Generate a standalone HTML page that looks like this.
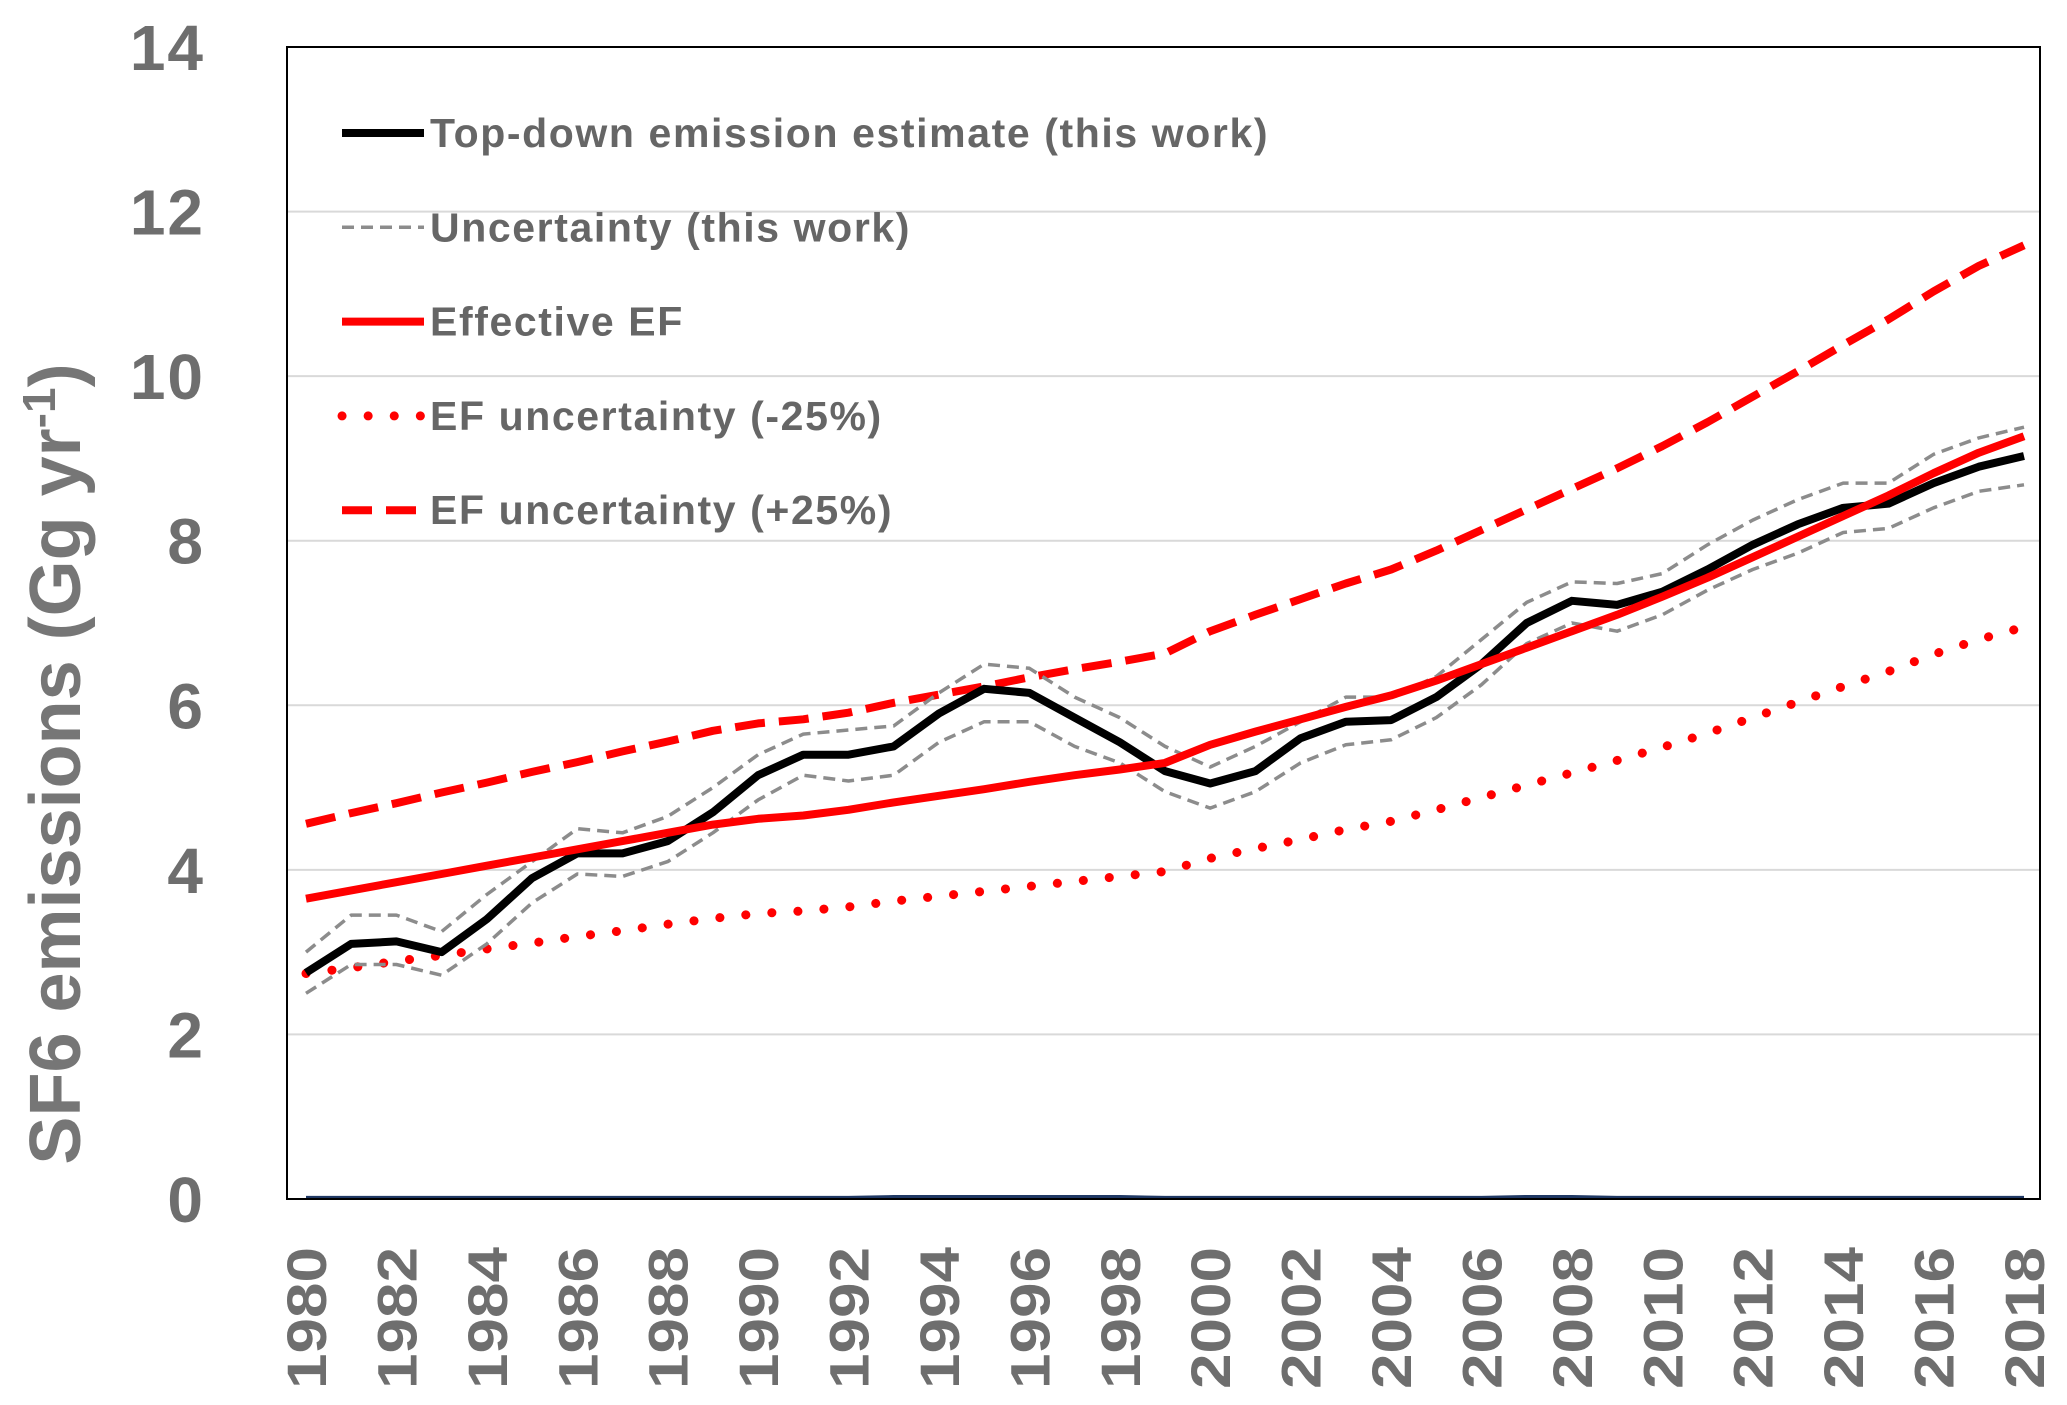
<!DOCTYPE html>
<html><head><meta charset="utf-8"><style>
html,body{margin:0;padding:0;background:#fff;}
svg{display:block;font-family:"Liberation Sans",sans-serif;font-weight:bold;}
</style></head><body>
<svg id="chart" width="2067" height="1405" viewBox="0 0 2067 1405" xmlns="http://www.w3.org/2000/svg">
<g id="grid"></g>
<g id="series"></g>
<rect x="287" y="47" width="1753" height="1152" fill="none" stroke="#000" stroke-width="2"/>
<g id="yticks"></g>
<g id="xticks"></g>
<text transform="translate(80,764) rotate(-90)" text-anchor="middle" font-size="72" fill="#767676" font-weight="bold">SF6 emissions (Gg yr<tspan dy="-25" font-size="46">-1</tspan><tspan dy="25">)</tspan></text>
<g id="legend"></g>
</svg>
<script>
const years = [];
for (let y = 1980; y <= 2018; y++) years.push(y);
const topDown = [2.75,3.1,3.13,3.0,3.4,3.9,4.2,4.2,4.35,4.7,5.15,5.4,5.4,5.5,5.9,6.2,6.15,5.85,5.55,5.2,5.05,5.2,5.6,5.8,5.82,6.1,6.5,7.0,7.27,7.22,7.38,7.65,7.95,8.2,8.4,8.45,8.7,8.9,9.03];
const uncUpper = [3.0,3.45,3.45,3.25,3.7,4.1,4.5,4.45,4.65,5.0,5.4,5.65,5.7,5.75,6.15,6.5,6.45,6.1,5.85,5.5,5.25,5.5,5.8,6.1,6.1,6.35,6.8,7.25,7.5,7.48,7.6,7.95,8.25,8.5,8.7,8.7,9.05,9.25,9.38];
const uncLower = [2.5,2.85,2.85,2.72,3.1,3.6,3.95,3.92,4.1,4.45,4.85,5.15,5.08,5.15,5.55,5.8,5.8,5.5,5.3,4.95,4.75,4.95,5.3,5.52,5.58,5.85,6.25,6.75,7.0,6.9,7.1,7.4,7.65,7.85,8.1,8.15,8.4,8.6,8.68];
const effEF = [3.65,3.75,3.85,3.95,4.05,4.15,4.25,4.35,4.45,4.55,4.62,4.66,4.73,4.82,4.9,4.98,5.07,5.15,5.22,5.3,5.52,5.68,5.83,5.98,6.12,6.3,6.5,6.7,6.9,7.1,7.32,7.55,7.8,8.05,8.3,8.55,8.82,9.07,9.27];
const efLow = [2.74,2.81,2.89,2.96,3.04,3.11,3.19,3.26,3.34,3.41,3.47,3.5,3.55,3.62,3.68,3.74,3.8,3.86,3.92,3.98,4.14,4.26,4.37,4.49,4.59,4.73,4.88,5.03,5.18,5.33,5.49,5.66,5.85,6.04,6.23,6.41,6.62,6.8,6.95];
const efHigh = [4.56,4.69,4.81,4.94,5.06,5.19,5.31,5.44,5.56,5.69,5.78,5.83,5.91,6.03,6.13,6.23,6.34,6.44,6.53,6.63,6.9,7.1,7.29,7.48,7.65,7.88,8.13,8.38,8.63,8.88,9.15,9.44,9.75,10.06,10.38,10.69,11.03,11.34,11.59];
const baseline = [0.02,0.02,0.02,0.02,0.02,0.02,0.02,0.02,0.02,0.02,0.02,0.02,0.02,0.03,0.03,0.03,0.03,0.03,0.03,0.02,0.02,0.02,0.02,0.02,0.02,0.02,0.02,0.03,0.03,0.02,0.02,0.02,0.02,0.02,0.02,0.02,0.02,0.02,0.02];
const yTicks = [0,2,4,6,8,10,12,14];
const xTickYears = [1980,1982,1984,1986,1988,1990,1992,1994,1996,1998,2000,2002,2004,2006,2008,2010,2012,2014,2016,2018];
const legendLabels = ["Top-down emission estimate (this work)","Uncertainty (this work)","Effective EF","EF uncertainty (-25%)","EF uncertainty (+25%)"];

const NS = "http://www.w3.org/2000/svg";
const xS = yr => 306 + (yr - 1980) * (2024 - 306) / 38;
const yS = v => 1199 - v * (1199 - 47) / 14;
function mk(tag, attrs, parent) {
  const e = document.createElementNS(NS, tag);
  for (const k in attrs) e.setAttribute(k, attrs[k]);
  parent.appendChild(e);
  return e;
}
const grid = document.getElementById('grid');
yTicks.forEach(t => {
  if (t === 0 || t === 14) return;
  const l = mk('line', {x1: 287, x2: 2040, y1: yS(t), y2: yS(t), stroke: '#d9d9d9', 'stroke-width': 2}, grid);
  
  
});
const yt = document.getElementById('yticks');
yTicks.forEach(t => {
  const e = mk('text', {x: 205, y: yS(t) + 23, 'text-anchor': 'end', 'font-size': 64, 'letter-spacing': 2, fill: '#6e6e6e'}, yt);
  e.textContent = t;
  
  
});
const xt = document.getElementById('xticks');
xTickYears.forEach(yr => {
  const e = mk('text', {transform: `translate(${xS(yr) + 20},1247) rotate(-90)`, 'text-anchor': 'end', 'font-size': 56, fill: '#6e6e6e', textLength: 142, lengthAdjust: 'spacingAndGlyphs'}, xt);
  e.textContent = yr;
  
  
});
const sg = document.getElementById('series');
function line(vals, style, name) {
  const d = vals.map((v, i) => (i ? 'L' : 'M') + xS(years[i]).toFixed(1) + ',' + yS(v).toFixed(1)).join('');
  const p = mk('path', Object.assign({d: d, fill: 'none', 'stroke-linejoin': 'round'}, style), sg);
  
  
}
const stBlack = {stroke: '#000', 'stroke-width': 8};
const stGray = {stroke: '#8c8c8c', 'stroke-width': 3.5, 'stroke-dasharray': '12 7'};
const stRed = {stroke: '#ff0000', 'stroke-width': 8};
const stDot = {stroke: '#ff0000', 'stroke-width': 9, 'stroke-dasharray': '0.1 26', 'stroke-linecap': 'round'};
const stDash = {stroke: '#ff0000', 'stroke-width': 8, 'stroke-dasharray': '30 14'};
line(baseline, {stroke: '#1f3864', 'stroke-width': 3}, 'baseline-series');
line(efLow, stDot, 'ef-uncertainty-minus25-line');
line(efHigh, stDash, 'ef-uncertainty-plus25-line');
line(uncUpper, stGray, 'uncertainty-upper-line');
line(uncLower, stGray, 'uncertainty-lower-line');
line(topDown, stBlack, 'top-down-estimate-line');
line(effEF, stRed, 'effective-ef-line');
const lg = document.getElementById('legend');
const styles = [stBlack, stGray, stRed, stDot, stDash];
legendLabels.forEach((lab, i) => {
  const y = 133 + i * 94.3;
  const l = mk('line', Object.assign({x1: 342, x2: 424, y1: y, y2: y}, styles[i]), lg);
  
  
  const t = mk('text', {x: 430, y: y + 14, 'font-size': 41, 'letter-spacing': 1.6, fill: '#666'}, lg);
  t.textContent = lab;
  
  
});
</script>
</body></html>
